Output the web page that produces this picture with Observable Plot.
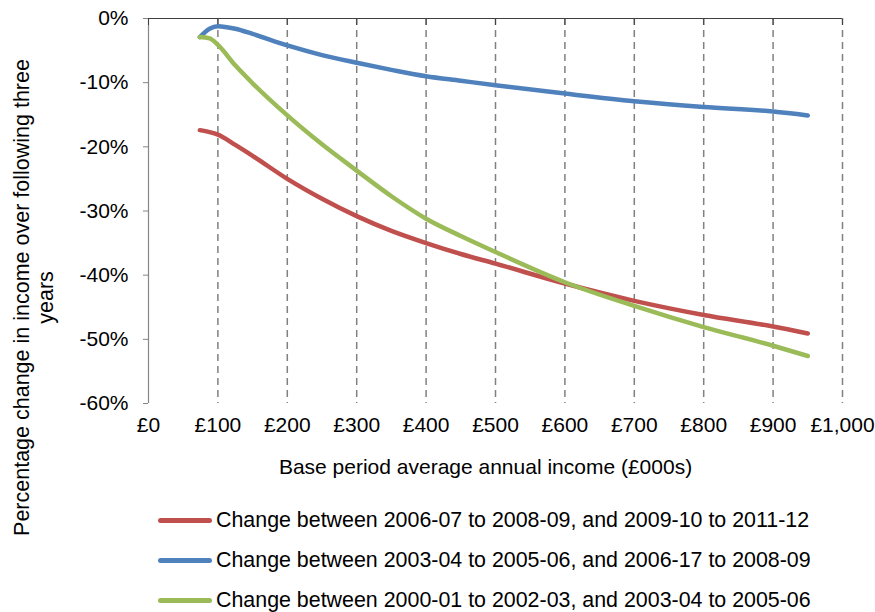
<!DOCTYPE html>
<html>
<head>
<meta charset="utf-8">
<script src="https://cdn.jsdelivr.net/npm/d3@7"></script>
<script src="https://cdn.jsdelivr.net/npm/@observablehq/plot@0.6"></script>
<style>
  html, body { margin: 0; padding: 0; background: #fff; }
  body { width: 875px; height: 612px; overflow: hidden; position: relative; font-family: "Liberation Sans", Arial, sans-serif; }
  #legend { position: absolute; left: 0; top: 500px; }
  .row { display: flex; align-items: center; height: 40px; font-size: 21.4px; color: #000; white-space: nowrap; }
  .sw { width: 54px; height: 5px; border-radius: 3px; margin-left: 158px; margin-right: 4px; }
</style>
</head>
<body>
<div id="chart"></div>
<div id="legend"></div>
<script>
const seriesNames = [
  "Change between 2006-07 to 2008-09, and 2009-10 to 2011-12",
  "Change between 2003-04 to 2005-06, and 2006-17 to 2008-09",
  "Change between 2000-01 to 2002-03, and 2003-04 to 2005-06"
];
const seriesColors = ["#C0504D", "#4F81BD", "#9BBB59"];
const income = [74, 88, 100, 125, 150, 200, 250, 300, 350, 400, 450, 500, 600, 700, 800, 900, 950];
const red   = [-17.4, -17.7, -18.1, -19.7, -21.4, -25.0, -28.1, -30.8, -33.1, -35.0, -36.7, -38.2, -41.3, -44.0, -46.2, -48.0, -49.1];
const blue  = [-2.9, -1.6, -1.2, -1.6, -2.4, -4.2, -5.7, -6.9, -8.0, -9.0, -9.7, -10.4, -11.7, -12.9, -13.8, -14.5, -15.1];
const green = [-2.9, -3.1, -4.1, -7.3, -10.1, -15.1, -19.6, -23.7, -27.7, -31.2, -33.9, -36.4, -41.1, -44.8, -48.1, -51.0, -52.6];
const xTicks = [0, 100, 200, 300, 400, 500, 600, 700, 800, 900, 1000];
const gridTicks = [100, 200, 300, 400, 500, 600, 700, 800, 900, 1000];
const yTicks = [0, -10, -20, -30, -40, -50, -60];
const xTitle = "Base period average annual income (£000s)";
const yTitle = "Percentage change in income over following three\nyears";

const allSeries = [red, blue, green];
const data = [];
allSeries.forEach((vals, i) => {
  income.forEach((x, j) => data.push({series: seriesNames[i], x, y: vals[j]}));
});

const chart = Plot.plot({
  width: 875,
  height: 612,
  marginLeft: 148,
  marginRight: 33,
  marginTop: 18,
  marginBottom: 209,
  style: {fontFamily: "'Liberation Sans', Arial, sans-serif", fontSize: "21px", color: "#000", background: "#fff"},
  x: {domain: [0, 1000]},
  y: {domain: [-60, 0]},
  color: {domain: seriesNames, range: seriesColors},
  marks: [
    Plot.gridX(gridTicks, {stroke: "#808080", strokeOpacity: 1, strokeWidth: 1.5, strokeDasharray: "7,5"}),
    Plot.ruleX([0], {stroke: "#868686", strokeWidth: 1.2}),
    Plot.ruleY([0], {stroke: "#404040", strokeWidth: 1.2}),
    Plot.axisY({ticks: yTicks, tickSize: 5, tickPadding: 15, tickFormat: d => d + "%", stroke: "#868686", label: null}),
    Plot.axisX({anchor: "bottom", ticks: xTicks, tickSize: 0, tickPadding: 14, tickFormat: d => "£" + d3.format(",")(d), label: null}),
    Plot.axisX({anchor: "top", ticks: xTicks, tickSize: -6, tickPadding: 0, tickFormat: () => "", stroke: "#404040", label: null}),
    Plot.line(data, {x: "x", y: "y", z: "series", stroke: "series", strokeWidth: 4.5, curve: "monotone-x", strokeLinecap: "round", strokeLinejoin: "round"}),
    Plot.text([xTitle], {frameAnchor: "bottom", textAnchor: "middle", dx: -10, dy: 70, text: d => d, fontSize: 21, fill: "#000"}),
    Plot.text([yTitle], {frameAnchor: "left", textAnchor: "middle", lineAnchor: "middle", dx: -115.5, dy: 86.5, rotate: -90, text: d => d, fontSize: 21.5, lineHeight: 1.16, fill: "#000"})
  ]
});
document.getElementById("chart").appendChild(chart);

const legend = document.getElementById("legend");
seriesNames.forEach((name, i) => {
  const row = document.createElement("div");
  row.className = "row";
  const sw = document.createElement("div");
  sw.className = "sw";
  sw.style.background = seriesColors[i];
  const label = document.createElement("span");
  label.textContent = name;
  row.appendChild(sw);
  row.appendChild(label);
  legend.appendChild(row);
});
</script>
</body>
</html>
